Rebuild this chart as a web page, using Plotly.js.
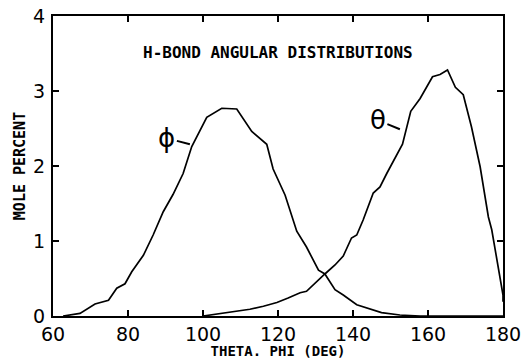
<!DOCTYPE html>
<html>
<head>
<meta charset="utf-8">
<script src="https://cdn.plot.ly/plotly-3.0.1.min.js"></script>
<style>html,body{margin:0;padding:0;background:#fff;}#chart{width:522px;height:359px;}</style>
</head>
<body>
<div id="chart"></div>
<script>
// phi distribution (angle in degrees, mole percent)
const phiX = [62.7, 63.7, 67.2, 71.2, 74.8, 77.0, 79.2, 81.0, 84.1, 86.7, 89.4, 92.0, 94.7, 97.0, 101.0, 105.0, 109.0, 113.0, 117.0, 118.7, 120.1, 121.9, 125.0, 127.6, 130.8, 132.5, 135.2, 137.4, 141.0, 143.7, 147.6, 152.5, 157.9, 180.0];
const phiY = [0.00, 0.01, 0.035, 0.16, 0.21, 0.37, 0.43, 0.59, 0.81, 1.08, 1.39, 1.62, 1.90, 2.26, 2.65, 2.77, 2.76, 2.46, 2.29, 1.96, 1.81, 1.61, 1.13, 0.92, 0.61, 0.56, 0.35, 0.28, 0.15, 0.11, 0.045, 0.013, 0.00, 0.00];
// theta distribution
const thetaX = [100.0, 104.5, 108.0, 112.5, 116.1, 119.7, 122.7, 125.9, 127.6, 130.3, 132.5, 135.2, 137.4, 139.6, 141.0, 142.7, 145.4, 147.2, 149.0, 153.2, 155.4, 157.9, 161.2, 163.2, 165.2, 167.3, 169.4, 171.6, 173.9, 176.1, 177.0, 180.0, 180.0];
const thetaY = [0.00, 0.035, 0.06, 0.09, 0.13, 0.18, 0.24, 0.31, 0.33, 0.46, 0.56, 0.68, 0.80, 1.04, 1.08, 1.28, 1.64, 1.72, 1.90, 2.29, 2.73, 2.90, 3.19, 3.22, 3.28, 3.05, 2.95, 2.52, 1.99, 1.32, 1.15, 0.28, 0.19];
const xTicks = [60, 80, 100, 120, 140, 160, 180];
const yTicks = [0, 1, 2, 3, 4];

const lineStyle = {color: '#000', width: 1.7};
const traces = [
  {x: phiX, y: phiY, mode: 'lines', line: lineStyle, showlegend: false, hoverinfo: 'skip'},
  {x: thetaX, y: thetaY, mode: 'lines', line: lineStyle, showlegend: false, hoverinfo: 'skip'}
];

const tickFont = {family: 'DejaVu Sans', size: 19, color: '#000'};
const labFont = {family: 'DejaVu Sans Mono', size: 14, color: '#000', weight: 'bold'};

const layout = {
  width: 522, height: 359,
  margin: {l: 53, r: 19, t: 16, b: 43},
  paper_bgcolor: '#fff', plot_bgcolor: '#fff',
  xaxis: {
    range: [60, 180], tickvals: xTicks, ticktext: xTicks.map(String),
    ticks: 'inside', ticklen: 6, tickwidth: 2, tickcolor: '#000',
    showline: true, linecolor: '#000', linewidth: 2, mirror: 'ticks',
    showgrid: false, zeroline: false, tickfont: tickFont, ticklabelstandoff: 0,
    title: {text: 'THETA. PHI (DEG)', font: labFont, standoff: 12}
  },
  yaxis: {
    range: [0, 4], tickvals: yTicks, ticktext: yTicks.map(String),
    ticks: 'inside', ticklen: 6, tickwidth: 2, tickcolor: '#000',
    showline: true, linecolor: '#000', linewidth: 2, mirror: 'ticks',
    showgrid: false, zeroline: false, tickfont: tickFont, ticklabelstandoff: 2,
    title: {text: 'MOLE PERCENT', font: {family: 'DejaVu Sans Mono', size: 15, color: '#000', weight: 'bold'}, standoff: 4}
  },
  annotations: [
    {xref: 'paper', yref: 'paper', x: 0.5, y: 0.917, text: 'H-BOND ANGULAR DISTRIBUTIONS',
     showarrow: false, font: {family: 'DejaVu Sans Mono', size: 16, color: '#000', weight: 'bold'}},
    {x: 96.5, y: 2.29, xref: 'x', yref: 'y', text: 'ϕ', showarrow: true, arrowhead: 0,
     arrowwidth: 2, arrowcolor: '#000', ax: -23, ay: -6,
     font: {family: 'DejaVu Sans', size: 26, color: '#000'}},
    {x: 152.5, y: 2.49, xref: 'x', yref: 'y', text: 'θ', showarrow: true, arrowhead: 0,
     arrowwidth: 2, arrowcolor: '#000', ax: -22, ay: -9,
     font: {family: 'DejaVu Sans', size: 26, color: '#000'}}
  ]
};

Plotly.newPlot('chart', traces, layout, {staticPlot: true, displayModeBar: false});
</script>
</body>
</html>
